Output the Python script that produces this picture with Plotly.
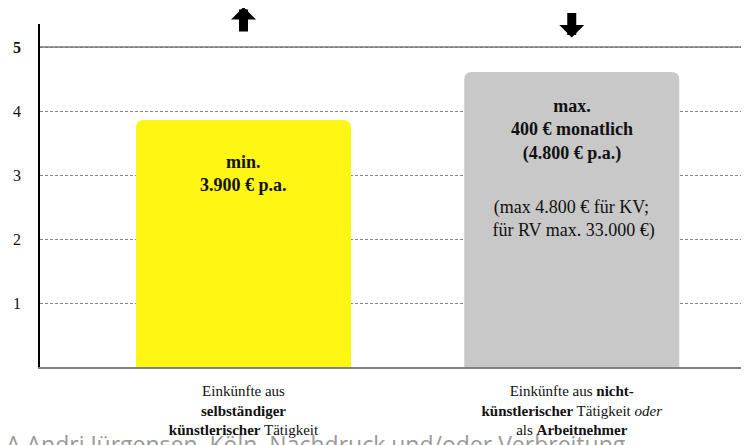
import plotly.graph_objects as go

# ---- data ----
categories = [0, 1]
values = [3.86, 4.61]
bar_colors = ["#FFF614", "#C8C8C8"]
category_labels = [
    "Einkünfte aus<br><b>selbständiger</b><br><b>künstlerischer</b> Tätigkeit",
    "Einkünfte aus <b>nicht-</b><br><b>künstlerischer</b> Tätigkeit <i>oder</i><br>als <b>Arbeitnehmer</b>",
]
bar_main_text = ["<b>min.<br>3.900 € p.a.</b>", "<b>max.<br>400 € monatlich<br>(4.800 € p.a.)</b>"]
bar_main_shift = [-30, -22]
bar_note_text = ["", "(max 4.800 € für KV;<br> für RV max. 33.000 €)"]
arrow_sides = ["end", "start"]   # up arrow: head at top, down arrow: head at bottom
arrow_top_shift = [17, 11]       # pixels above plot top of the arrow's upper end
y_ticks = [1, 2, 3, 4, 5]
y_ticktext = ["1", "2", "3", "4", "<b>5</b>"]
top_line_value = 5
watermark = "A Andri Jürgensen, Köln. Nachdruck und/oder Verbreitung"

SERIF = "Liberation Serif, Times New Roman, serif"
X_RANGE = [-0.62, 1.54]

fig = go.Figure()
fig.add_trace(go.Bar(
    x=categories, y=values, width=0.655,
    marker=dict(color=bar_colors, line=dict(width=0)),
    hoverinfo="skip",
))

# solid line at 5
fig.add_shape(type="line", xref="paper", x0=0, x1=1, yref="y", y0=top_line_value, y1=top_line_value,
              line=dict(color="#777777", width=1.5), layer="above")

ann = []
for i, c in enumerate(categories):
    ann.append(dict(x=c, y=values[i], xref="x", yref="y", text=bar_main_text[i], showarrow=False,
                    yanchor="top", yshift=bar_main_shift[i], align="center",
                    font=dict(family=SERIF, size=18, color="#111111")))
    if bar_note_text[i]:
        ann.append(dict(x=c, y=values[i], xref="x", yref="y", text=bar_note_text[i], showarrow=False,
                        yanchor="top", yshift=-123, align="center",
                        font=dict(family=SERIF, size=18, color="#111111")))
    xp = (c - X_RANGE[0]) / (X_RANGE[1] - X_RANGE[0])
    ann.append(dict(x=xp, y=1, xref="paper", yref="paper", text="", showarrow=True,
                    yshift=arrow_top_shift[i], ax=0, ay=25, borderpad=0,
                    font=dict(size=1), arrowside=arrow_sides[i],
                    arrowhead=1, arrowsize=0.46, startarrowhead=1, startarrowsize=0.46,
                    arrowwidth=9, arrowcolor="#000000", standoff=0, startstandoff=0))

ann.append(dict(x=0, y=0, xref="paper", yref="paper", xanchor="left", yanchor="top",
                xshift=-36, yshift=-59, text=watermark, showarrow=False,
                font=dict(family="Open Sans, DejaVu Sans, sans-serif", size=23, color="#9a9a9a")))

fig.update_layout(
    width=741, height=437,
    margin=dict(l=32, r=0, t=16, b=78),
    paper_bgcolor="white", plot_bgcolor="white",
    showlegend=False,
    barcornerradius=7,
    annotations=ann,
    font=dict(family=SERIF, size=15, color="#111111"),
)
fig.update_xaxes(
    range=X_RANGE, tickvals=categories, ticktext=category_labels,
    showgrid=False, zeroline=False, showline=True, linecolor="#808080", linewidth=2,
    ticks="", ticklabelstandoff=9, tickfont=dict(family=SERIF, size=15, color="#111111"),
)
fig.update_yaxes(
    range=[0, 5.36], tickvals=y_ticks, ticktext=y_ticktext,
    showgrid=True, gridcolor="#888888", gridwidth=1, griddash="3px,2px",
    zeroline=False, showline=True, linecolor="#000000", linewidth=1.5,
    ticks="", ticklabelstandoff=14, tickfont=dict(family=SERIF, size=16, color="#111111"),
)

fig.write_html("out.html")
